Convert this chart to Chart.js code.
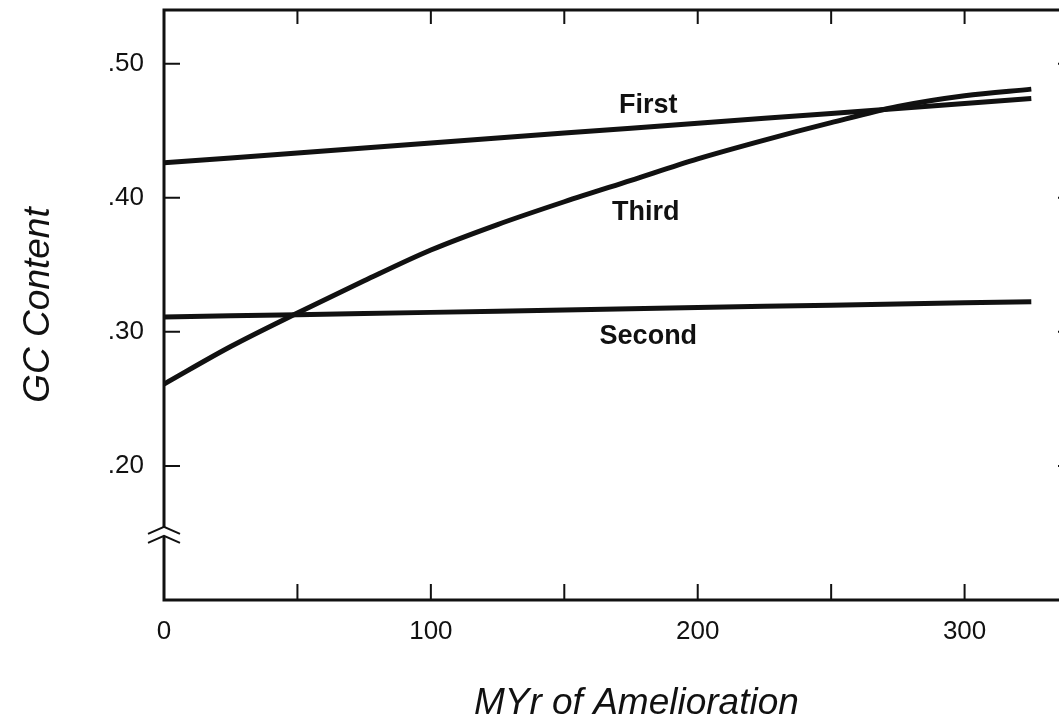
<!DOCTYPE html>
<html>
<head>
<meta charset="utf-8">
<title>GC Content vs MYr of Amelioration</title>
<script src="https://cdn.jsdelivr.net/npm/chart.js@4.4.0/dist/chart.umd.min.js"></script>
<style>
  html, body { margin: 0; padding: 0; background: #fff; overflow: hidden; }
  #wrap { width: 1059px; height: 719px; overflow: hidden; }
</style>
</head>
<body>
<div id="wrap"><canvas id="gcChart" width="1080" height="719"></canvas></div>
<script>
// MYr of amelioration and GC content at each codon position
const myr       = [0, 25, 50, 75, 100, 125, 150, 175, 200, 225, 250, 275, 300, 325];
const firstGC   = [0.4260, 0.4297, 0.4334, 0.4371, 0.4408, 0.4445, 0.4482, 0.4518, 0.4555, 0.4592, 0.4629, 0.4666, 0.4703, 0.4740];
const secondGC  = [0.3110, 0.3119, 0.3128, 0.3137, 0.3145, 0.3154, 0.3163, 0.3172, 0.3181, 0.3190, 0.3198, 0.3207, 0.3216, 0.3225];
const thirdGC   = [0.261, 0.289, 0.314, 0.338, 0.361, 0.380, 0.397, 0.413, 0.429, 0.443, 0.456, 0.468, 0.476, 0.481];

const seriesNames = ['First', 'Second', 'Third'];
const xTickValues = [0, 100, 200, 300];
const xMarkValues = [50, 100, 150, 200, 250, 300];
const yTickValues = [0.20, 0.30, 0.40, 0.50];
const xTitle = 'MYr of Amelioration';

const INK = '#111';
const FONT = '"Liberation Sans", Arial, Helvetica, sans-serif';

function toPoints(ys) {
    return myr.map((x, i) => ({ x: x, y: ys[i] }));
}

// frame with inward ticks on all four sides, plus the break on the y axis
const framePlugin = {
    id: 'frame',
    afterDraw(chart) {
        const { ctx, chartArea: a, scales: { x, y } } = chart;
        ctx.save();
        ctx.strokeStyle = INK;
        ctx.lineCap = 'butt';

        ctx.lineWidth = 2;
        ctx.beginPath();
        xMarkValues.forEach(v => {
            const px = x.getPixelForValue(v);
            ctx.moveTo(px, a.bottom); ctx.lineTo(px, a.bottom - 16);
            ctx.moveTo(px, a.top);    ctx.lineTo(px, a.top + 14);
        });
        yTickValues.forEach(v => {
            const py = y.getPixelForValue(v);
            ctx.moveTo(a.left, py);  ctx.lineTo(a.left + 16, py);
            ctx.moveTo(a.right, py); ctx.lineTo(a.right - 16, py);
        });
        ctx.stroke();

        ctx.lineWidth = 3;
        ctx.strokeRect(a.left, a.top, a.right - a.left, a.bottom - a.top);

        // axis break between 0 and .20
        const by = y.getPixelForValue(0.15);
        ctx.fillStyle = '#fff';
        ctx.fillRect(a.left - 3, by - 5, 6, 8);
        ctx.lineWidth = 2;
        ctx.beginPath();
        ctx.moveTo(a.left - 16, by + 1);  ctx.lineTo(a.left, by - 6); ctx.lineTo(a.left + 16, by + 1);
        ctx.moveTo(a.left - 16, by + 10); ctx.lineTo(a.left, by + 3); ctx.lineTo(a.left + 16, by + 10);
        ctx.stroke();

        // x axis title, centred a little right of the axis middle
        ctx.fillStyle = INK;
        ctx.font = 'italic 37px ' + FONT;
        ctx.textAlign = 'center';
        ctx.textBaseline = 'alphabetic';
        ctx.fillText(xTitle, x.getPixelForValue(177), a.bottom + 114);
        ctx.restore();
    }
};

// names written next to each curve
const seriesLabelPlugin = {
    id: 'seriesLabels',
    afterDatasetsDraw(chart) {
        const { ctx, scales: { x, y } } = chart;
        const spots = { First: [181.5, 0.469], Second: [181.5, 0.2966], Third: [180.5, 0.389] };
        ctx.save();
        ctx.fillStyle = INK;
        ctx.font = 'bold 27px ' + FONT;
        ctx.textAlign = 'center';
        ctx.textBaseline = 'middle';
        seriesNames.forEach(name => {
            const s = spots[name];
            ctx.fillText(name, x.getPixelForValue(s[0]), y.getPixelForValue(s[1]));
        });
        ctx.restore();
    }
};

function lineSet(name, ys, smooth) {
    return {
        label: name,
        data: toPoints(ys),
        borderColor: INK,
        borderWidth: 5,
        pointRadius: 0,
        fill: false,
        tension: smooth ? 0.4 : 0,
        cubicInterpolationMode: smooth ? 'monotone' : 'default'
    };
}

new Chart(document.getElementById('gcChart'), {
    type: 'line',
    data: {
        datasets: [
            lineSet(seriesNames[0], firstGC, false),
            lineSet(seriesNames[1], secondGC, false),
            lineSet(seriesNames[2], thirdGC, true)
        ]
    },
    options: {
        responsive: false,
        animation: false,
        layout: { padding: { top: 10, right: 6, left: 0, bottom: 0 } },
        plugins: { legend: { display: false }, tooltip: { enabled: false } },
        scales: {
            x: {
                type: 'linear',
                min: 0,
                max: 341,
                afterBuildTicks: s => { s.ticks = xTickValues.map(v => ({ value: v })); },
                afterFit: s => { s.height = 119; s.paddingLeft = 0; s.paddingRight = 0; },
                grid: { display: false, drawTicks: false },
                border: { display: false },
                ticks: { padding: 16, color: INK, maxRotation: 0, autoSkip: false,
                         font: { family: FONT, size: 26 } },
                title: { display: false }
            },
            y: {
                type: 'linear',
                min: 0.10,
                max: 0.54,
                afterBuildTicks: s => { s.ticks = yTickValues.map(v => ({ value: v })); },
                afterFit: s => { s.width = 164; s.paddingTop = 0; s.paddingBottom = 0; },
                grid: { display: false, drawTicks: false },
                border: { display: false },
                ticks: { padding: 20, color: INK, autoSkip: false,
                         font: { family: FONT, size: 26 },
                         callback: v => v.toFixed(2).replace(/^0/, '') },
                title: { display: true, text: 'GC Content', color: INK,
                         padding: { top: 20, bottom: 0 },
                         font: { family: FONT, size: 37, style: 'italic', lineHeight: 1 } }
            }
        }
    },
    plugins: [framePlugin, seriesLabelPlugin]
});
</script>
</body>
</html>
